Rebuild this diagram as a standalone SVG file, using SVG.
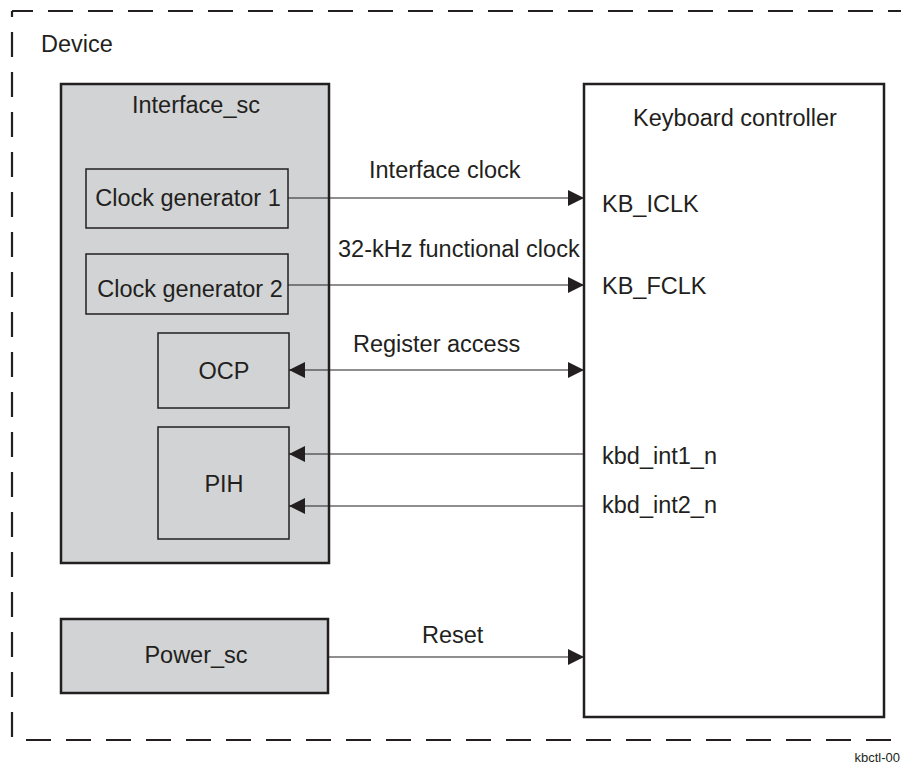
<svg xmlns="http://www.w3.org/2000/svg" width="901" height="764" viewBox="0 0 901 764">
<style>
text{font-family:"Liberation Sans",Arial,Helvetica,sans-serif;font-size:23.5px;fill:#231f20}
.c{text-anchor:middle}
.outer{fill:#d1d3d4;stroke:#231f20;stroke-width:2.5}
.inner{fill:#d1d3d4;stroke:#231f20;stroke-width:1.5}
.kb{fill:#fff;stroke:#231f20;stroke-width:2.5}
.dash{fill:none;stroke:#231f20;stroke-width:2.2;stroke-dasharray:25 15}
.ln{fill:none;stroke:#231f20;stroke-width:1.2}
</style>
<defs>
<marker id="ah" viewBox="0 0 16 16" refX="16" refY="8" markerWidth="16" markerHeight="16" markerUnits="userSpaceOnUse" orient="auto-start-reverse">
<path d="M0,0 L16,8 L0,16 Z" fill="#231f20"/>
</marker>
</defs>
<rect width="901" height="764" fill="#fff"/>
<g id="device">
<path class="dash" d="M12,11 L901,11" stroke-dashoffset="4"/>
<path class="dash" d="M12,11 L12,738" stroke-dashoffset="19"/>
<path class="dash" d="M26,740 L901,740"/>
<text x="41" y="52">Device</text>
</g>
<g id="interface_sc">
<rect class="outer" x="61" y="84" width="268" height="479"/>
<text class="c" x="196" y="113">Interface_sc</text>
</g>
<g id="clockgen1">
<rect class="inner" x="86" y="169" width="202" height="59"/>
<text class="c" x="188" y="206">Clock generator 1</text>
</g>
<g id="clockgen2">
<rect class="inner" x="86" y="254" width="202" height="60"/>
<text class="c" x="190" y="297">Clock generator 2</text>
</g>
<g id="ocp">
<rect class="inner" x="158" y="333" width="131" height="75"/>
<text class="c" x="224" y="379">OCP</text>
</g>
<g id="pih">
<rect class="inner" x="158" y="427" width="131" height="112"/>
<text class="c" x="224" y="492">PIH</text>
</g>
<g id="power_sc">
<rect class="outer" x="61" y="619" width="267" height="74"/>
<text class="c" x="196" y="663">Power_sc</text>
</g>
<g id="keyboard">
<rect class="kb" x="584" y="84" width="300" height="633"/>
<text class="c" x="735" y="126">Keyboard controller</text>
<text x="602" y="212">KB_ICLK</text>
<text x="602" y="294">KB_FCLK</text>
<text x="602" y="464">kbd_int1_n</text>
<text x="602" y="513">kbd_int2_n</text>
</g>
<g id="connectors">
<line class="ln" x1="288" y1="198" x2="584" y2="198" marker-end="url(#ah)"/>
<line class="ln" x1="288" y1="285" x2="584" y2="285" marker-end="url(#ah)"/>
<line class="ln" x1="289" y1="370" x2="584" y2="370" marker-start="url(#ah)" marker-end="url(#ah)"/>
<line class="ln" x1="584" y1="454" x2="289" y2="454" marker-end="url(#ah)"/>
<line class="ln" x1="584" y1="506" x2="289" y2="506" marker-end="url(#ah)"/>
<line class="ln" x1="328" y1="657" x2="584" y2="657" marker-end="url(#ah)"/>
<text x="369" y="178">Interface clock</text>
<text x="338" y="257">32-kHz functional clock</text>
<text x="353" y="352">Register access</text>
<text x="422" y="643">Reset</text>
</g>
<text x="900" y="762" style="font-size:13px;text-anchor:end">kbctl-00</text>
</svg>
